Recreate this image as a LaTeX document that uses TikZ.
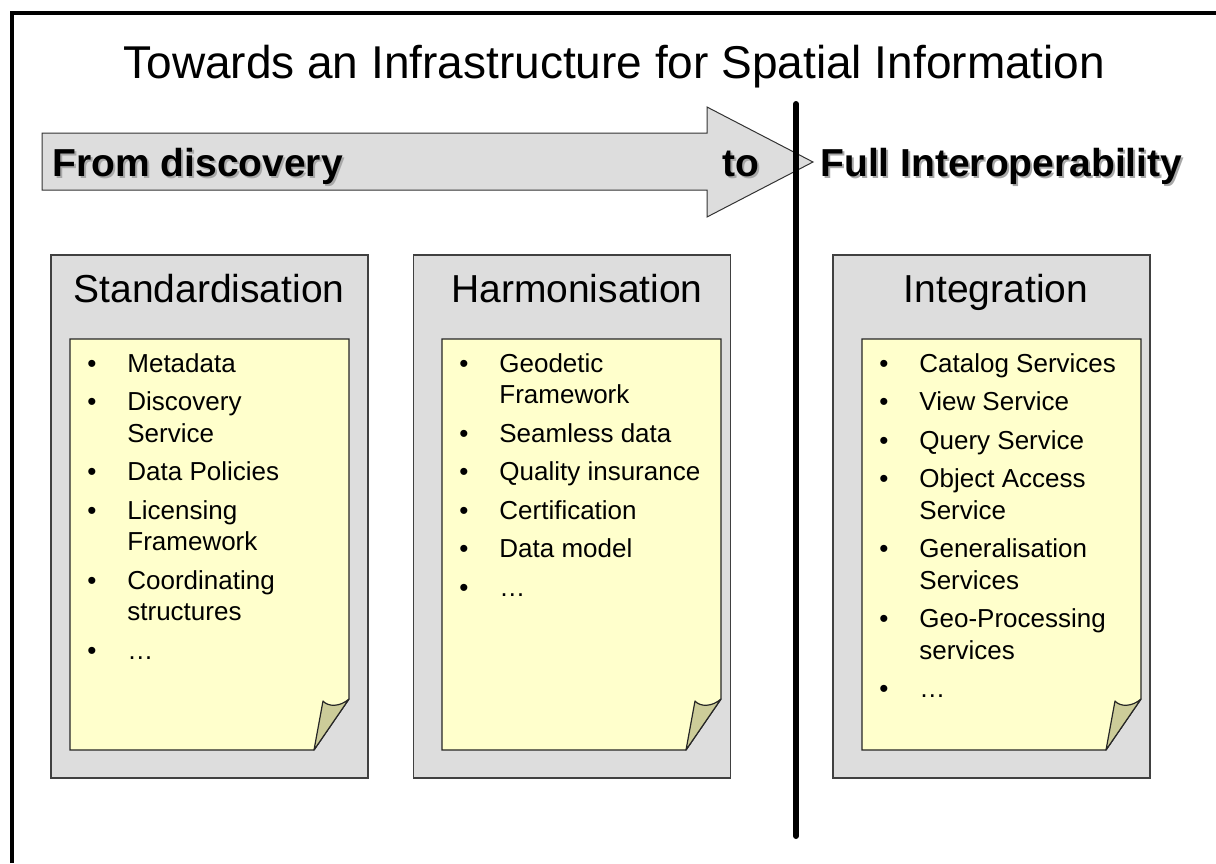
\documentclass[tikz,border=0pt]{standalone}
\usepackage{fontspec}
\setmainfont{Liberation Sans}
\usepackage{tikz}
\usetikzlibrary{positioning}
\definecolor{panelgray}{HTML}{DDDDDD}
\definecolor{noteyellow}{HTML}{FFFFCC}
\definecolor{flapolive}{HTML}{CCCC99}
\definecolor{shadowgray}{HTML}{A8A8A8}
\tikzset{%
	frame/.style      = {line width=2pt},
	divider/.style    = {line width=3pt, line cap=round},
	banner/.style     = {draw=black!80, fill=panelgray, line width=0.5pt},
	panel/.style      = {draw=black!75, fill=panelgray, line width=0.6pt, minimum width=158.5pt, minimum height=261.5pt, inner sep=0pt},
	note/.style       = {draw=black!85, fill=noteyellow, line width=0.6pt},
	flap/.style       = {draw=black!85, fill=flapolive, line width=0.6pt, line join=round},
}
\tikzset{%
	headline/.style   = {font=\fontsize{23pt}{27pt}\selectfont, inner sep=0pt}, % Title
	paneltitle/.style = {font=\fontsize{19.5pt}{23pt}\selectfont, inner sep=0pt, anchor=base},
	boldtext/.style   = {font=\fontsize{19.5pt}{23pt}\selectfont\bfseries, inner sep=0pt, anchor=base west},
	boldshadow/.style = {boldtext, text=shadowgray}, % drop shadow
	itemlist/.style   = {font=\fontsize{13pt}{15.75pt}\selectfont, inner sep=0pt, anchor=base west},
}
\begin{document}
\begin{tikzpicture}[x=0.5pt,y=-0.5pt]
	\useasboundingbox (0,0) rectangle (1216,863);
	\draw[frame] (12,863) -- (12,13) -- (1216,13);
	\node[headline,anchor=base west] (title) at (123,78) {Towards an Infrastructure for Spatial Information};
	
	% big arrow
	\draw[banner] (42,133) -- (707,133) -- (707,107) -- (813,162) -- (707,217) -- (707,190) -- (42,190) -- cycle;
	\node[boldshadow] (froms) at (54,178) {From discovery};
	\node[boldtext] (from) at (52,176) {From discovery};
	\node[boldshadow] (tos) at (724,178) {to};
	\node[boldtext] (to) at (722,176) {to};
	\node[boldshadow] (fulls) at (822,178) {Full Interoperability};
	\node[boldtext] (full) at (820,176) {Full Interoperability};
	\draw[divider] (796,104) -- (796,836);
	
	% panels
	\node[panel] (std) at (209.5,516.5) {};
	\node[panel] (harm) at (572,516.5) {};
	\node[panel] (integ) at (991.5,516.5) {};
	\node[paneltitle] (stdtitle) at (209,302) {Standardisation};
	\node[paneltitle] (harmtitle) at (577,302) {Harmonisation};
	\node[paneltitle] (integtitle) at (996,302) {Integration};
	
	% notes with curled corner
	\foreach \nx in {70,442,862} {
		\draw[note] (\nx,339) -- ++(279,0) -- ++(0,360) -- ++(-35,51) -- ++(-244,0) -- cycle;
		\draw[flap] (\nx+244,750) -- (\nx+253,701) .. controls (\nx+258,707) and (\nx+270,707) .. (\nx+279,699) -- cycle;
	}
	
	\node[itemlist] (stdlist) at (87,372) {\begin{tabular}[t]{@{}p{20pt}@{}l@{}}
		\textbullet & Metadata\\[3.5pt]
		\textbullet & Discovery\\ & Service\\[3.5pt]
		\textbullet & Data Policies\\[3.5pt]
		\textbullet & Licensing\\ & Framework\\[3.5pt]
		\textbullet & Coordinating\\ & structures\\[3.5pt]
		\textbullet & …
	\end{tabular}};
	\node[itemlist] (harmlist) at (459,372) {\begin{tabular}[t]{@{}p{20pt}@{}l@{}}
		\textbullet & Geodetic\\ & Framework\\[3.5pt]
		\textbullet & Seamless data\\[3.5pt]
		\textbullet & Quality insurance\\[3.5pt]
		\textbullet & Certification\\[3.5pt]
		\textbullet & Data model\\[3.5pt]
		\textbullet & …
	\end{tabular}};
	\node[itemlist] (integlist) at (879,372) {\begin{tabular}[t]{@{}p{20pt}@{}l@{}}
		\textbullet & Catalog Services\\[3.5pt]
		\textbullet & View Service\\[3.5pt]
		\textbullet & Query Service\\[3.5pt]
		\textbullet & Object Access\\ & Service\\[3.5pt]
		\textbullet & Generalisation\\ & Services\\[3.5pt]
		\textbullet & Geo-Processing\\ & services\\[3.5pt]
		\textbullet & …
	\end{tabular}};
\end{tikzpicture}
\end{document}
